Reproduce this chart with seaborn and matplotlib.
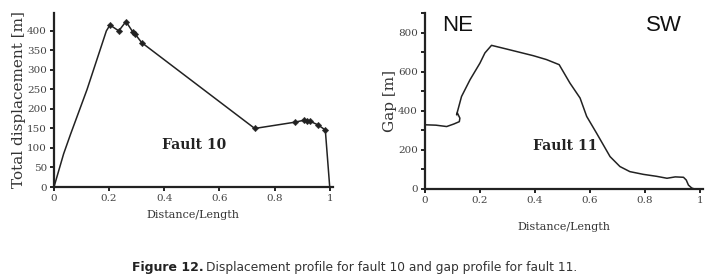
import numpy as np
import pandas as pd
import seaborn as sns
from matplotlib import pyplot as plt

# Fault 10 - displacement profile (line vertices)
f10_x = [0.0, 0.035, 0.06, 0.12, 0.19, 0.203, 0.235, 0.261, 0.287, 0.293, 0.318,
         0.728, 0.873, 0.906, 0.918, 0.930, 0.958, 0.984, 1.0]
f10_y = [0, 85, 135, 250, 400, 415, 400, 424, 396, 393, 370,
         150, 166, 171, 170, 168, 159, 146, 0]
# measured points (markers)
f10_mark_x = [0.203, 0.235, 0.261, 0.287, 0.293, 0.318, 0.728, 0.873, 0.906, 0.918, 0.930, 0.958, 0.984]
f10_mark_y = [415, 400, 424, 396, 393, 370, 150, 166, 171, 170, 168, 159, 146]

# Fault 11 - gap profile
f11_x = [0.0, 0.04, 0.079, 0.105, 0.125, 0.127, 0.118, 0.115, 0.118, 0.133, 0.164, 0.2,
         0.218, 0.242, 0.297, 0.394, 0.442, 0.488, 0.527, 0.564, 0.588, 0.624,
         0.673, 0.709, 0.745, 0.794, 0.842, 0.88, 0.91, 0.94, 0.95, 0.958, 0.97, 0.98]
f11_y = [329, 327, 320, 333, 345, 363, 372, 380, 406, 474, 560, 645,
         697, 736, 717, 683, 663, 637, 543, 466, 372, 286,
         166, 115, 89, 75, 65, 55, 62, 60, 46, 20, 5, 0]

df10 = pd.DataFrame({'x': f10_x, 'y': f10_y})
df10m = pd.DataFrame({'x': f10_mark_x, 'y': f10_mark_y})
df11 = pd.DataFrame({'x': f11_x, 'y': f11_y})

sns.set_style('ticks')
plt.rcParams['font.family'] = ['DejaVu Serif']

fig = plt.figure(figsize=(7.13, 2.79), dpi=100)
ax1 = fig.add_axes([0.0757, 0.3297, 0.391, 0.624])
ax2 = fig.add_axes([0.596, 0.3226, 0.39, 0.631])

# left panel
sns.lineplot(data=df10, x='x', y='y', ax=ax1, color='#222222', lw=1.1, sort=False)
sns.scatterplot(data=df10m, x='x', y='y', ax=ax1, color='#222222', marker='D', s=11,
                edgecolor='#222222', zorder=3)
ax1.set_xlim(0, 1.011)
ax1.set_ylim(0, 446)
ax1.set_xticks([0, 0.2, 0.4, 0.6, 0.8, 1])
ax1.set_xticklabels(['0', '0.2', '0.4', '0.6', '0.8', '1'])
ax1.set_yticks(range(0, 401, 50))
ax1.set_xlabel('Distance/Length', fontsize=8, color='#333333', labelpad=5)
ax1.set_ylabel('Total displacement [m]', fontsize=11, color='#333333', labelpad=1)
ax1.text(0.51, 108, 'Fault 10', fontsize=10, fontweight='bold', ha='center', va='center',
         color='#222222')

# right panel
sns.lineplot(data=df11, x='x', y='y', ax=ax2, color='#222222', lw=1.1, sort=False)
ax2.set_xlim(0, 1.011)
ax2.set_ylim(0, 902)
ax2.set_xticks([0, 0.2, 0.4, 0.6, 0.8, 1])
ax2.set_xticklabels(['0', '0.2', '0.4', '0.6', '0.8', '1'])
ax2.set_yticks(range(0, 801, 200))
ax2.set_yticks(range(100, 901, 200), minor=True)
ax2.set_xlabel('Distance/Length', fontsize=8, color='#333333', labelpad=12)
ax2.set_ylabel('Gap [m]', fontsize=11, color='#333333', labelpad=1)
ax2.text(0.51, 220, 'Fault 11', fontsize=10, fontweight='bold', ha='center', va='center',
         color='#222222')
ax2.text(0.12, 836, 'NE', fontsize=16, ha='center', va='center', family='Liberation Sans',
         color='#111111')
ax2.text(0.87, 836, 'SW', fontsize=16, ha='center', va='center', family='Liberation Sans',
         color='#111111')

for ax in (ax1, ax2):
    sns.despine(ax=ax)
    for s in ('left', 'bottom'):
        ax.spines[s].set_linewidth(1.6)
        ax.spines[s].set_color('#222222')
    ax.tick_params(which='both', direction='out', length=3, width=1.4, colors='#222222',
                   labelsize=7.5, labelcolor='#444444', pad=2)
    ax.tick_params(which='minor', length=3)

# caption
fig.text(0.185, 0.043, 'Figure 12.', fontsize=9, fontweight='bold', ha='left', va='center',
         family='DejaVu Sans', color='#222222')
fig.text(0.289, 0.043, 'Displacement profile for fault 10 and gap profile for fault 11.',
         fontsize=8.8, ha='left', va='center', family='DejaVu Sans', color='#333333')

fig.savefig('out.png', dpi=100)
